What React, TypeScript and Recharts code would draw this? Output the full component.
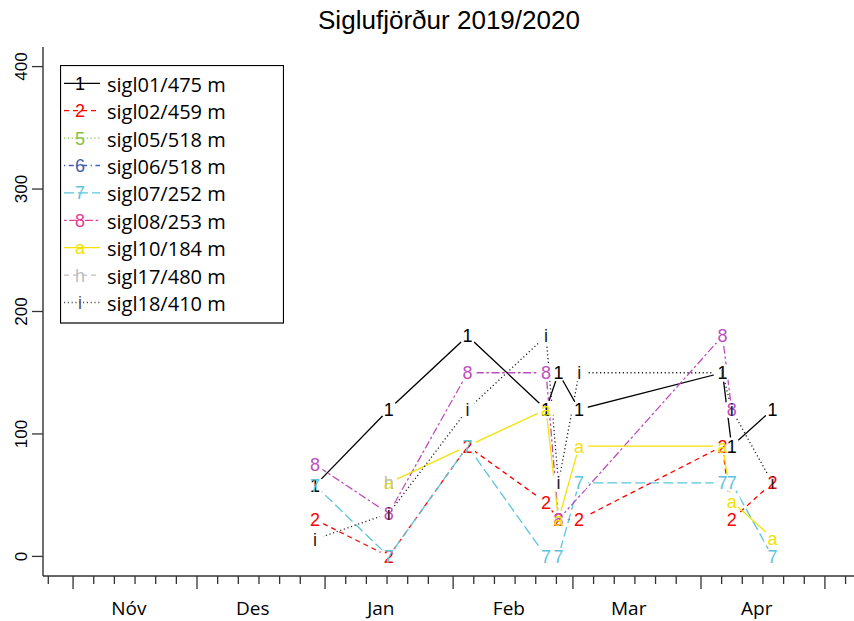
import React from "react";
import { ComposedChart, Line, XAxis, YAxis, Legend } from "recharts";

// sampling dates (approximate time of day)
const dates = [
  "2019-12-29T14", "2020-01-16T10", "2020-02-04T12", "2020-02-23T12", "2020-02-26T12",
  "2020-03-02T12", "2020-04-06T05", "2020-04-08T10", "2020-04-18T07",
];

// snow depth (cm) per station, null = not measured
const sigl01 = [58, 120, 180, 120, 150, 120, 150, 90, 120];
const sigl02 = [30, 0, 90, 44, 30, 30, 90, 30, 60];
const sigl05: (number | null)[] = [null, null, null, null, null, null, null, null, null];
const sigl06: (number | null)[] = [null, null, null, null, null, null, null, null, null];
const sigl07 = [58, 0, 90, 0, 0, 60, 60, 60, 0];
const sigl08 = [75, 35, 150, 150, 30, null, 180, 120, null];
const sigl10 = [null, 60, null, 120, 30, 90, 90, 45, 15];
const sigl17 = [null, 60, null, null, null, null, null, null, null];
const sigl18 = [14, 35, 120, 180, 60, 150, 150, 120, 60];

const stationNames = [
  "sigl01/475 m", "sigl02/459 m", "sigl05/518 m", "sigl06/518 m", "sigl07/252 m",
  "sigl08/253 m", "sigl10/184 m", "sigl17/480 m", "sigl18/410 m",
];
const glyphs = ["1", "2", "5", "6", "7", "8", "a", "h", "i"];

const monthLabels = ["Nóv", "Des", "Jan", "Feb", "Mar", "Apr"];
const labelMonths = ["2019-11", "2019-12", "2020-01", "2020-02", "2020-03", "2020-04"];
const axisMonths = ["2019-10", "2019-11", "2019-12", "2020-01", "2020-02", "2020-03", "2020-04", "2020-05"];
const tickDays = [1, 6, 11, 16, 21, 26];
const yTicks = [0, 100, 200, 300, 400];

const colors = ["#000000", "#ff0000", "#84c341", "#3f5fae", "#5bc5dc", "#bd4fbd", "#f2e205", "#bebebe", "#222222"];
const legendColors = ["#000000", "#ff0000", "#84c341", "#3f5fae", "#5bc5dc", "#ec3d94", "#f2e205", "#bebebe", "#555555"];
const dashes = [undefined, "5 4", "1.2 2.6", "1.3 3.5 5 3.5", "10 4", "2.6 2.6 8 2.6", undefined, "5 4", "1.2 2.6"];

const MARK_FONT = "'Liberation Sans', Arial, sans-serif";
const LAB_FONT = "'Open Sans', sans-serif";
const AXIS = "#333";

const T0 = Date.UTC(2019, 10, 1);
const toDay = (s: string) => {
  const [d, h] = s.split("T");
  const [Y, M, D] = d.split("-").map(Number);
  return (Date.UTC(Y, M - 1, D || 1, h ? Number(h) : 0) - T0) / 864e5;
};
const X_DOMAIN: [number, number] = [-7.28, 189.28];

const tickVals: number[] = [];
const majorSet = new Set<string>();
axisMonths.forEach((m) =>
  tickDays.forEach((dd) => {
    const v = toDay(`${m}-${String(dd).padStart(2, "0")}`);
    if (v >= X_DOMAIN[0] && v <= X_DOMAIN[1]) {
      tickVals.push(v);
      if (dd === 1) majorSet.add(v.toFixed(3));
    }
  })
);
const labelMap = new Map<string, string>();
const labelVals = labelMonths.map((m, i) => {
  const v = toDay(`${m}-14T12`);
  labelMap.set(v.toFixed(3), monthLabels[i]);
  return v;
});

const allValues = [sigl01, sigl02, sigl05, sigl06, sigl07, sigl08, sigl10, sigl17, sigl18];
const series = allValues.map((vals, i) => ({
  id: `s${i}`,
  name: stationNames[i],
  glyph: glyphs[i],
  color: colors[i],
  legendColor: legendColors[i],
  dash: dashes[i],
  data: vals
    .map((v, j) => (v == null ? null : { x: toDay(dates[j]), y: v }))
    .filter((p): p is { x: number; y: number } => p !== null),
}));
type S = (typeof series)[number];

const BottomTick = ({ x, y, payload }: any) => {
  const k = Number(payload.value).toFixed(3);
  const lab = labelMap.get(k);
  if (lab)
    return (
      <text x={x} y={615} textAnchor="middle" fontFamily={LAB_FONT} fontSize={19} fill="#000">
        {lab}
      </text>
    );
  const len = majorSet.has(k) ? 13 : 8;
  return <line x1={x} x2={x} y1={y} y2={y + len} stroke={AXIS} strokeWidth={1.3} />;
};

const TopTick = ({ x, y, payload }: any) => {
  const len = majorSet.has(Number(payload.value).toFixed(3)) ? 12 : 7;
  return <line x1={x} x2={x} y1={y} y2={y - len} stroke={AXIS} strokeWidth={1.3} />;
};

const LeftTick = ({ x, y, payload }: any) => (
  <g>
    <line x1={x - 11} x2={x} y1={y} y2={y} stroke={AXIS} strokeWidth={1.3} />
    <text
      x={x - 16}
      y={y}
      transform={`rotate(-90 ${x - 16} ${y})`}
      textAnchor="middle"
      fontFamily={MARK_FONT}
      fontSize={17}
      fill="#000"
    >
      {payload.value}
    </text>
  </g>
);

// type="b" look: each line is followed by white discs round its points, glyphs go on top of everything
const haloDot = (s: S) => (p: any) => (
  <circle key={`h-${s.id}-${p.index}-${p.cx}`} cx={p.cx} cy={p.cy} r={9} fill="#fff" stroke="none" />
);
const glyphDot = (s: S) => (p: any) => (
  <text
    key={`g-${s.id}-${p.index}-${p.cx}`}
    x={p.cx}
    y={p.cy}
    dy="0.36em"
    textAnchor="middle"
    fontFamily={MARK_FONT}
    fontSize={18}
    fill={s.color}
  >
    {s.glyph}
  </text>
);

const LegendBox = () => (
  <svg width={224} height={259} style={{ display: "block" }}>
    <rect x={0.5} y={0.5} width={223} height={257.5} fill="#fff" stroke="#000" strokeWidth={1.2} />
    {series.map((s, i) => {
      const cy = 18.3 + 27.4 * i;
      return (
        <g key={s.id}>
          <line x1={4} x2={40} y1={cy} y2={cy} stroke={s.legendColor} strokeWidth={1.3} strokeDasharray={s.dash} />
          <text x={20} y={cy} dy="0.36em" textAnchor="middle" fontFamily={MARK_FONT} fontSize={18} fill={s.legendColor}>
            {s.glyph}
          </text>
          <text x={47} y={cy + 8.4} fontFamily={LAB_FONT} fontSize={20} fill="#000">
            {s.name}
          </text>
        </g>
      );
    })}
  </svg>
);

const drawn = series.filter((s) => s.data.length > 0);

export default function App() {
  return (
    <div style={{ position: "absolute", left: 0, top: 0, width: 854, height: 621, overflow: "hidden", background: "#fff" }}>
      <svg width={854} height={44} style={{ position: "absolute", left: 0, top: 0 }}>
        <text x={449} y={29} textAnchor="middle" fontFamily={MARK_FONT} fontSize={26} textLength={262} lengthAdjust="spacingAndGlyphs" fill="#000">
          Siglufjörður 2019/2020
        </text>
      </svg>
      <div style={{ position: "absolute", left: 0, top: 0 }}>
        <ComposedChart width={857} height={621} margin={{ top: 47, right: 2, bottom: 0, left: 0 }}>
          <XAxis
            xAxisId="b"
            type="number"
            dataKey="x"
            scale="linear"
            domain={X_DOMAIN}
            allowDataOverflow
            ticks={[...tickVals, ...labelVals]}
            interval={0}
            tickSize={0}
            tickMargin={0}
            tickLine={false}
            axisLine={{ stroke: AXIS, strokeWidth: 1.4 }}
            height={45}
            tick={BottomTick}
          />
          <XAxis
            xAxisId="t"
            orientation="top"
            type="number"
            scale="linear"
            domain={X_DOMAIN}
            allowDataOverflow
            ticks={tickVals}
            interval={0}
            tickSize={0}
            tickMargin={0}
            tickLine={false}
            axisLine={{ stroke: AXIS, strokeWidth: 1.4 }}
            height={0}
            tick={TopTick}
          />
          <YAxis
            yAxisId="l"
            type="number"
            domain={[-16, 416]}
            allowDataOverflow
            ticks={yTicks}
            interval={0}
            width={43}
            tickSize={0}
            tickMargin={0}
            tickLine={false}
            axisLine={{ stroke: AXIS, strokeWidth: 1.4 }}
            tick={LeftTick}
          />
          <Legend
            verticalAlign="middle"
            align="center"
            layout="horizontal"
            wrapperStyle={{ left: 60, top: 65, width: 224, height: 259, margin: 0, padding: 0 }}
            content={() => <LegendBox />}
          />
          {drawn.flatMap((s) => [
            <Line
              key={`ln-${s.id}`}
              xAxisId="b"
              yAxisId="l"
              data={s.data}
              dataKey="y"
              type="linear"
              stroke={s.color}
              strokeWidth={1.3}
              strokeDasharray={s.dash}
              dot={false}
              activeDot={false}
              legendType="none"
              isAnimationActive={false}
            />,
            <Line
              key={`halo-${s.id}`}
              xAxisId="b"
              yAxisId="l"
              data={s.data}
              dataKey="y"
              stroke="none"
              dot={haloDot(s)}
              activeDot={false}
              legendType="none"
              isAnimationActive={false}
            />,
          ])}
          {drawn.map((s) => (
            <Line
              key={`gl-${s.id}`}
              xAxisId="b"
              yAxisId="l"
              data={s.data}
              dataKey="y"
              stroke="none"
              dot={glyphDot(s)}
              activeDot={false}
              legendType="none"
              isAnimationActive={false}
            />
          ))}
        </ComposedChart>
      </div>
    </div>
  );
}
